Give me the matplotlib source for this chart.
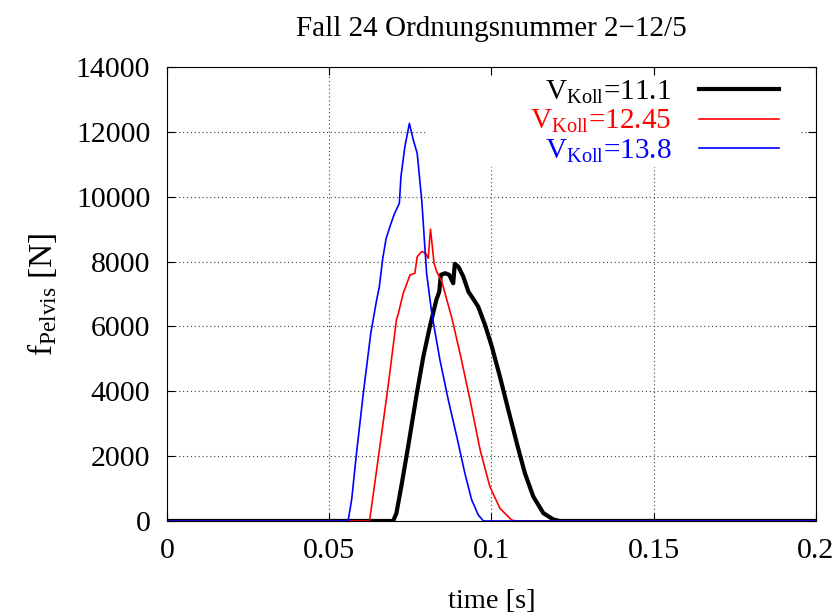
import matplotlib
matplotlib.use("Agg")
import matplotlib.pyplot as plt
from matplotlib.patches import Rectangle

plt.rcParams["font.family"] = ["Liberation Serif", "DejaVu Serif"]
plt.rcParams["mathtext.fontset"] = "custom"
plt.rcParams["mathtext.rm"] = "Liberation Serif"
plt.rcParams["mathtext.it"] = "Liberation Serif:italic"

# Pelvis force over time for three collision speeds
t_111 = [0.0, 0.0697, 0.0707, 0.0722, 0.0743, 0.0770, 0.0790, 0.0810, 0.0830,
         0.0839, 0.0844, 0.0857, 0.0870, 0.0882, 0.0887, 0.0898, 0.0913, 0.0929,
         0.0939, 0.0959, 0.0980, 0.1001, 0.1026, 0.1052, 0.1078, 0.1103, 0.1129,
         0.1160, 0.1190, 0.1210, 0.2]
f_111 = [0, 0, 240, 1060, 2290, 3940, 5070, 5990, 6815,
         7070, 7590, 7640, 7590, 7330, 7930, 7840, 7540, 7070,
         6920, 6610, 6050, 5380, 4450, 3420, 2400, 1470, 750,
         240, 50, 0, 0]

t_1245 = [0.0, 0.0624, 0.0636, 0.0656, 0.0682, 0.0707, 0.0713, 0.0728, 0.0749,
          0.0764, 0.0771, 0.0785, 0.0797, 0.0805, 0.0812, 0.0823, 0.0831, 0.0847,
          0.0878, 0.0903, 0.0934, 0.0965, 0.0995, 0.1026, 0.1062, 0.1075, 0.2]
f_1245 = [0, 0, 850, 2300, 4200, 6200, 6400, 7020, 7590,
          7640, 8150, 8310, 8250, 8100, 9000, 7950, 7690, 7380,
          6250, 5170, 3730, 2190, 1060, 390, 30, 0, 0]

t_138 = [0.0, 0.0558, 0.0569, 0.0584, 0.0605, 0.0628, 0.0646, 0.0654, 0.0665,
         0.0675, 0.0687, 0.0700, 0.0716, 0.0721, 0.0733, 0.0747, 0.0759, 0.0771,
         0.0785, 0.0800, 0.0816, 0.0841, 0.0867, 0.0893, 0.0918, 0.0939, 0.0959,
         0.0975, 0.2]
f_138 = [0, 0, 650, 2090, 3940, 5790, 6815, 7200, 8100,
         8700, 9080, 9450, 9800, 10620, 11540, 12260, 11750, 11340,
         9900, 7640, 6400, 4970, 3730, 2600, 1470, 650, 190,
         0, 0]

series = [
    (t_111, f_111, "black", 3.0, r"$\mathrm{V_{Koll}}$=11.1"),
    (t_1245, f_1245, "red", 1.2, r"$\mathrm{V_{Koll}}$=12.45"),
    (t_138, f_138, "blue", 1.2, r"$\mathrm{V_{Koll}}$=13.8"),
]

x_ticks = [0, 0.05, 0.1, 0.15, 0.2]
x_labels = ["0", "0.05", "0.1", "0.15", "0.2"]
y_ticks = [0, 2000, 4000, 6000, 8000, 10000, 12000, 14000]

fig = plt.figure(figsize=(8.38, 6.14), dpi=100)
ax = fig.add_axes([0.1993, 0.1515, 0.7744, 0.7394])

# dotted grid drawn beneath everything else
ax.vlines(x_ticks, 0, 14000, colors="0.25", linestyles=(0, (1, 2.5)),
          linewidth=0.8, zorder=0.5)
ax.hlines(y_ticks, 0, 0.2, colors="0.25", linestyles=(0, (1, 2.5)),
          linewidth=0.8, zorder=0.5)
# opaque key background
ax.add_patch(Rectangle((0.40, 0.78), 0.575, 0.22, transform=ax.transAxes,
                       facecolor="white", edgecolor="none", zorder=0.7))

handles = []
for t, f, c, lw, lab in series:
    h, = ax.plot(t, f, color=c, lw=lw, label=lab, zorder=2,
                 solid_joinstyle="round")
    handles.append(h)

ax.set_xlim(0, 0.2)
ax.set_ylim(0, 14000)
ax.set_xticks(x_ticks)
ax.set_xticklabels(x_labels)
ax.set_yticks(y_ticks)
ax.tick_params(direction="in", top=True, right=True, length=6, width=0.8,
               labelsize=21.5, pad=12)
for s in ax.spines.values():
    s.set_linewidth(0.8)

leg = ax.legend(handles=handles, loc="upper right",
                bbox_to_anchor=(0.975, 1.02), frameon=False, markerfirst=False,
                fontsize=21, handlelength=2.75, handletextpad=0.96,
                labelspacing=0.08, borderaxespad=0.3)
for txt, h in zip(leg.get_texts(), handles):
    txt.set_color(h.get_color())

ax.set_title("Fall 24 Ordnungsnummer 2\u221212/5", fontsize=21, pad=22)
ax.set_xlabel("time [s]", fontsize=20.5, labelpad=18)
ax.set_ylabel(r"$\mathrm{f_{Pelvis}}$ [N]", fontsize=24, labelpad=12)

fig.savefig("out.png", dpi=100)
